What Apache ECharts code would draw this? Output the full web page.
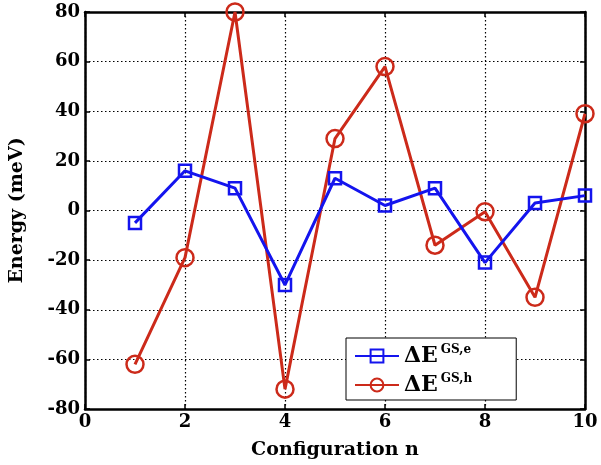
<!DOCTYPE html>
<html>
<head>
<meta charset="utf-8">
<script src="https://cdn.jsdelivr.net/npm/echarts@6/dist/echarts.min.js"></script>
<style>
  html, body { margin: 0; padding: 0; background: #fff; }
  #chart { width: 601px; height: 465px; }
</style>
</head>
<body>
<div id="chart"></div>
<script>
const configs = [1, 2, 3, 4, 5, 6, 7, 8, 9, 10]
const electronGS = [-5, 16, 9, -30, 13, 2, 9, -21, 3, 6]
const holeGS = [-62, -19, 80, -72, 29, 58, -14, -0.5, -35, 39]
const xTicks = [0, 2, 4, 6, 8, 10]
const yTicks = [-80, -60, -40, -20, 0, 20, 40, 60, 80]

const font = 'DejaVu Serif'
const blue = '#1414ee'
const red = '#cc2a1a'

const chart = echarts.init(document.getElementById('chart'))

const pairs = (ys) => configs.map((x, i) => [x, ys[i]])

const axisCommon = {
  axisLine: { show: true, onZero: false, lineStyle: { color: '#000', width: 2.5 } },
  axisTick: { show: true, inside: true, length: 5, lineStyle: { color: '#000', width: 1.5 } }
}

chart.setOption({
  animation: false,
  grid: { left: 82, right: 16, top: 12, bottom: 55, show: false },
  legend: {
    left: 346,
    top: 338,
    orient: 'vertical',
    backgroundColor: '#fff',
    borderColor: '#000',
    borderWidth: 1,
    borderRadius: 0,
    padding: [6, 44, 4, 8],
    itemGap: 6,
    itemWidth: 44,
    itemHeight: 16,
    formatter: (name) => '{b|ΔE}{s|' + name + '}',
    textStyle: {
      rich: {
        b: { fontFamily: font, fontWeight: 'bold', fontSize: 22, color: '#000' },
        s: { fontFamily: font, fontWeight: 'bold', fontSize: 12, color: '#000', verticalAlign: 'top', padding: [0, 0, 12, 3] }
      }
    },
    data: ['GS,e', 'GS,h']
  },
  xAxis: [
    {
      type: 'value', min: 0, max: 10, interval: 2,
      name: 'Configuration n', nameLocation: 'middle', nameGap: 32,
      nameTextStyle: { fontFamily: font, fontWeight: 'bold', fontSize: 19, color: '#000' },
      ...axisCommon,
      axisLabel: { fontFamily: font, fontWeight: 'bold', fontSize: 18, color: '#000', margin: 4,
        formatter: (v) => xTicks.includes(v) ? String(v) : '' },
      splitLine: { show: true, lineStyle: { color: '#000', type: [1.5, 2.5], width: 1.2 } }
    },
    {
      type: 'value', min: 0, max: 10, interval: 2, position: 'top',
      ...axisCommon,
      axisLabel: { show: false },
      splitLine: { show: false }
    }
  ],
  yAxis: [
    {
      type: 'value', min: -80, max: 80, interval: 20,
      name: 'Energy (meV)', nameLocation: 'middle', nameGap: 58,
      nameTextStyle: { fontFamily: font, fontWeight: 'bold', fontSize: 19, color: '#000' },
      ...axisCommon,
      axisLabel: { fontFamily: font, fontWeight: 'bold', fontSize: 18, color: '#000', margin: 5,
        formatter: (v) => yTicks.includes(v) ? String(v) : '' },
      splitLine: { show: true, lineStyle: { color: '#000', type: [1.5, 2.5], width: 1.2 } }
    },
    {
      type: 'value', min: -80, max: 80, interval: 20, position: 'right',
      ...axisCommon,
      axisLabel: { show: false },
      splitLine: { show: false }
    }
  ],
  series: [
    {
      name: 'GS,e',
      type: 'line',
      data: pairs(electronGS),
      symbol: 'rect',
      symbolSize: 12,
      lineStyle: { color: blue, width: 3 },
      itemStyle: { color: 'rgba(0,0,0,0)', borderColor: blue, borderWidth: 2.5 },
      z: 3
    },
    {
      name: 'GS,h',
      type: 'line',
      data: pairs(holeGS),
      symbol: 'circle',
      symbolSize: 17,
      lineStyle: { color: red, width: 3 },
      itemStyle: { color: 'rgba(0,0,0,0)', borderColor: red, borderWidth: 2.5 },
      z: 2
    }
  ]
})
</script>
</body>
</html>
